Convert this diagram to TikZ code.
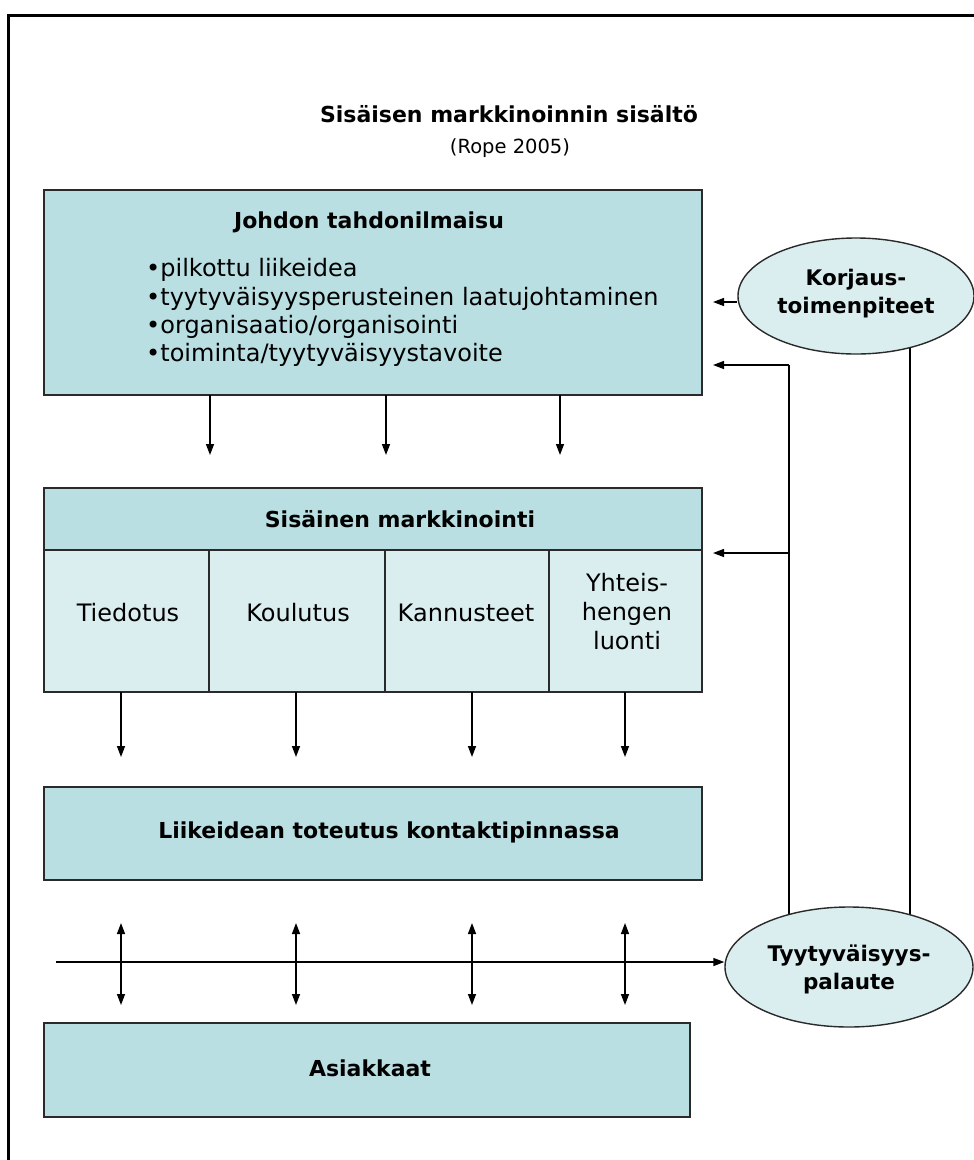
\documentclass[tikz,border=0pt]{standalone}
\usepackage{fontspec}
\setmainfont{DejaVu Sans}
\usetikzlibrary{shapes.geometric,arrows.meta}
\pgfdeclarelayer{bg}
\pgfsetlayers{bg,main}
\definecolor{boxteal}{HTML}{B9DFE2}
\definecolor{cellteal}{HTML}{DAEEF0}
\definecolor{edgegray}{HTML}{2A2A2A}
\tikzset{
  box/.style={draw=edgegray, line width=1.6pt, fill=boxteal, inner sep=0pt, outer sep=0pt},
  cellbox/.style={box, fill=cellteal},
  oval/.style={ellipse, draw=edgegray, line width=1.4pt, fill=cellteal, inner sep=0pt},
  boldtxt/.style={font=\bfseries\fontsize{22}{28}\selectfont, inner sep=0pt},
  regtxt/.style={font=\fontsize{24}{29}\selectfont, inner sep=0pt, align=center},
  ovaltxt/.style={font=\bfseries\fontsize{21.5}{28}\selectfont, inner sep=0pt, align=center},
  arr/.style={line width=1.4pt, -{Triangle[length=11pt,width=8pt]}},
  darr/.style={line width=1.4pt, {Triangle[length=11pt,width=8pt]}-{Triangle[length=11pt,width=8pt]}},
  plain/.style={line width=1.4pt}
}
\begin{document}
\begin{tikzpicture}[x=1pt,y=-1pt]
\useasboundingbox (0,0) rectangle (974,1160);
\begin{pgfonlayer}{bg}
\fill[white] (0,0) rectangle (974,1160);
\end{pgfonlayer}
% frame
\draw[line width=3pt] (8,1160) -- (8,15) -- (974,15);

% title
\node[boldtxt] (title) at (509,114) {Sisäisen markkinoinnin sisältö};
\node[font=\fontsize{19.5}{22}\selectfont, inner sep=0pt] (rope) at (510,148) {(Rope 2005)};

% box 1
\node[box, minimum width=658pt, minimum height=205pt] (johdon) at (373,292.5) {};
\node[boldtxt] (johdontitle) at (369,222) {Johdon tahdonilmaisu};
\node[regtxt, anchor=west] (b1) at (146,270) {•pilkottu liikeidea};
\node[regtxt, anchor=west] (b2) at (146,299) {•tyytyväisyysperusteinen laatujohtaminen};
\node[regtxt, anchor=west] (b3) at (146,327) {•organisaatio/organisointi};
\node[regtxt, anchor=west] (b4) at (146,355) {•toiminta/tyytyväisyystavoite};

% box 2
\node[box, minimum width=658pt, minimum height=62pt] (sis) at (373,519) {};
\node[boldtxt] (sistitle) at (400,519) {Sisäinen markkinointi};
\node[cellbox, minimum width=165pt, minimum height=142pt] (c1) at (126.5,621) {};
\node[cellbox, minimum width=176pt, minimum height=142pt] (c2) at (297,621) {};
\node[cellbox, minimum width=164pt, minimum height=142pt] (c3) at (467,621) {};
\node[cellbox, minimum width=153pt, minimum height=142pt] (c4) at (625.5,621) {};
\node[regtxt] (t1) at (128,613) {Tiedotus};
\node[regtxt] (t2) at (298,613) {Koulutus};
\node[regtxt] (t3) at (466,613) {Kannusteet};
\node[regtxt] (t4) at (627,612) {Yhteis-\\hengen\\luonti};

% box 3
\node[box, minimum width=658pt, minimum height=93pt] (liike) at (373,833.5) {};
\node[boldtxt] (liiketxt) at (389,832) {Liikeidean toteutus kontaktipinnassa};

% box 4
\node[box, minimum width=646pt, minimum height=94pt] (asiak) at (367,1070) {};
\node[boldtxt] (asiaktxt) at (370,1068) {Asiakkaat};

% ellipses
\node[oval, minimum width=236pt, minimum height=116pt] (korj) at (856,296) {};
\node[ovaltxt] (korjtxt) at (856,294) {Korjaus-\\toimenpiteet};
\node[oval, minimum width=248pt, minimum height=120pt] (tyyt) at (849,967) {};
\node[ovaltxt] (tyyttxt) at (849,969) {Tyytyväisyys-\\palaute};

% coordinates
\coordinate (a1) at (210,455);
\coordinate (a2) at (386,455);
\coordinate (a3) at (560,455);
\coordinate (d1) at (121,757);
\coordinate (d2) at (296,757);
\coordinate (d3) at (472,757);
\coordinate (d4) at (625,757);
\coordinate (u1) at (121,923);
\coordinate (u2) at (296,923);
\coordinate (u3) at (472,923);
\coordinate (u4) at (625,923);
\coordinate (l1) at (121,1005);
\coordinate (l2) at (296,1005);
\coordinate (l3) at (472,1005);
\coordinate (l4) at (625,1005);
\coordinate (hstart) at (56,962);
\coordinate (fb) at (789,920);
\coordinate (fbtop) at (789,365);
\coordinate (tip1) at (713,365);
\coordinate (tip2) at (713,553);
\coordinate (tip0) at (713,302);
\coordinate (kl) at (910,340);
\coordinate (kb) at (910,920);

% arrows
\draw[arr] (a1 |- johdon.south) -- (a1);
\draw[arr] (a2 |- johdon.south) -- (a2);
\draw[arr] (a3 |- johdon.south) -- (a3);
\draw[arr] (d1 |- c1.south) -- (d1);
\draw[arr] (d2 |- c2.south) -- (d2);
\draw[arr] (d3 |- c3.south) -- (d3);
\draw[arr] (d4 |- c4.south) -- (d4);
\draw[darr] (u1) -- (l1);
\draw[darr] (u2) -- (l2);
\draw[darr] (u3) -- (l3);
\draw[darr] (u4) -- (l4);
\draw[arr] (hstart) -- (hstart -| tyyt.west);
\draw[arr] (tip0 -| korj.west) -- (tip0);
\begin{pgfonlayer}{bg}
\draw[plain] (tyyt.center -| fb) -- (fbtop);
\draw[plain] (korj.center -| kl) -- (tyyt.center -| kb);
\end{pgfonlayer}
\draw[arr] (fbtop) -- (tip1);
\draw[arr] (tip2 -| fb) -- (tip2);
\end{tikzpicture}
\end{document}
